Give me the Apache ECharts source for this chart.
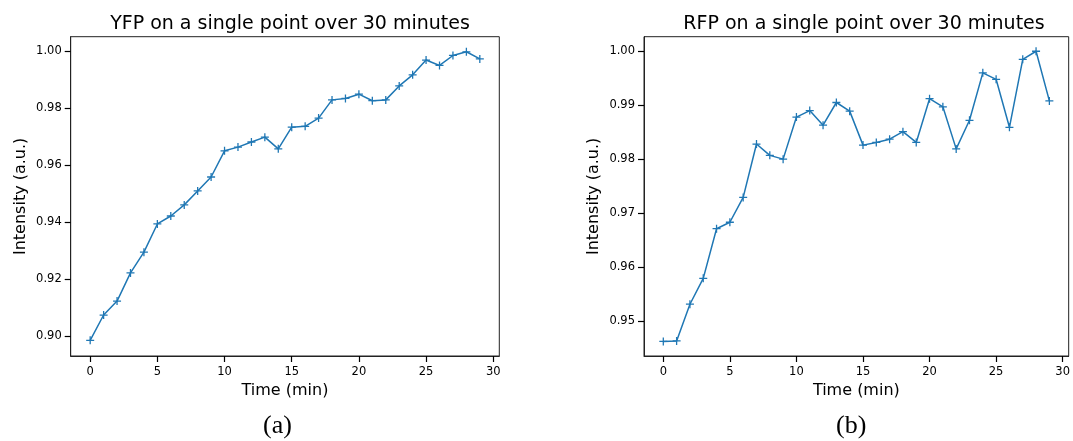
<!DOCTYPE html>
<head>
    <meta charset="UTF-8">
    <title>YFP / RFP</title>
</head>
<body style="margin:0;background:#fff">
<div id="main" style="width:1073px;height:441px"></div>
<script src="https://cdn.jsdelivr.net/npm/echarts@6/dist/echarts.min.js"></script>
<script type="text/javascript">
var times = [0,1,2,3,4,5,6,7,8,9,10,11,12,13,14,15,16,17,18,19,20,21,22,23,24,25,26,27,28,29];
var yfp = [0.8984,0.9073,0.9122,0.9221,0.9294,0.9393,0.9421,0.9460,0.9509,0.9558,
           0.9650,0.9663,0.9681,0.9698,0.9657,0.9733,0.9736,0.9765,0.9829,0.9834,
           0.9849,0.9826,0.9829,0.9878,0.9917,0.9969,0.9950,0.9985,0.9998,0.9973];
var rfp = [0.9462,0.9463,0.9531,0.9579,0.9671,0.9683,0.9729,0.9828,0.9807,0.9800,
           0.9878,0.9890,0.9863,0.9905,0.9889,0.9826,0.9831,0.9837,0.9851,0.9831,
           0.9912,0.9897,0.9819,0.9872,0.9960,0.9948,0.9859,0.9985,1.0000,0.9908];
var xTicks = [0,5,10,15,20,25,30];
var yfpTicks = [0.90,0.92,0.94,0.96,0.98,1.00];
var rfpTicks = [0.95,0.96,0.97,0.98,0.99,1.00];

var font = 'DejaVu Sans';
var blue = '#1f77b4';
// "+" marker, matplotlib style
var plus = 'path://M4.2,0h1.6v4.2h4.2v1.6h-4.2v4.2h-1.6v-4.2h-4.2v-1.6h4.2z';

function pairs(ys) {
    var out = [];
    for (var i = 0; i < ys.length; i++) out.push([times[i], ys[i]]);
    return out;
}

function xAxisFor(idx) {
    return {
        gridIndex: idx, type: 'value', min: -1.45, max: 30.45,
        name: 'Time (min)', nameLocation: 'middle', nameGap: 27,
        nameTextStyle: {fontFamily: font, fontSize: 16, color: '#000'},
        axisLine: {show: true, onZero: false, lineStyle: {color: '#222', width: 1}},
        splitLine: {show: false},
        axisTick: {show: true, length: 6, customValues: xTicks, lineStyle: {color: '#000', width: 1.2}},
        axisLabel: {customValues: xTicks, fontFamily: font, fontSize: 11.5, color: '#000', margin: 10}
    };
}

function yAxisFor(idx, min, max, ticks) {
    return {
        gridIndex: idx, type: 'value', min: min, max: max,
        name: 'Intensity (a.u.)', nameLocation: 'middle', nameGap: 42,
        nameTextStyle: {fontFamily: font, fontSize: 16, color: '#000'},
        axisLine: {show: true, onZero: false, lineStyle: {color: '#222', width: 1}},
        splitLine: {show: false},
        axisTick: {show: true, length: 6, customValues: ticks, lineStyle: {color: '#000', width: 1.2}},
        axisLabel: {customValues: ticks, fontFamily: font, fontSize: 11.5, color: '#000', margin: 9,
            formatter: function (v) { return v.toFixed(2); }}
    };
}

function lineSeries(idx, ys) {
    return {
        type: 'line', xAxisIndex: idx, yAxisIndex: idx,
        data: pairs(ys),
        showAllSymbol: true,
        symbol: plus, symbolSize: 8,
        lineStyle: {color: blue, width: 1.5},
        itemStyle: {color: blue}
    };
}

var option = {
    animation: false,
    backgroundColor: '#fff',
    title: [
        {text: 'YFP on a single point over 30 minutes', left: 285, top: 10, textAlign: 'center',
         textStyle: {fontFamily: font, fontSize: 19, fontWeight: 'normal', color: '#000'}},
        {text: 'RFP on a single point over 30 minutes', left: 859, top: 10, textAlign: 'center',
         textStyle: {fontFamily: font, fontSize: 19, fontWeight: 'normal', color: '#000'}}
    ],
    grid: [
        {left: 70.7, top: 36.7, width: 428.6, height: 319.3, show: true, borderColor: '#222', borderWidth: 1},
        {left: 644, top: 36.7, width: 430.4, height: 319.3, show: true, borderColor: '#222', borderWidth: 1}
    ],
    xAxis: [xAxisFor(0), xAxisFor(1)],
    yAxis: [yAxisFor(0, 0.8929, 1.0051, yfpTicks), yAxisFor(1, 0.9435, 1.0027, rfpTicks)],
    series: [lineSeries(0, yfp), lineSeries(1, rfp)],
    graphic: [
        {type: 'text', left: 263, top: 413, style: {text: '(a)', font: '26px "Liberation Serif"', fill: '#000'}},
        {type: 'text', left: 836, top: 413, style: {text: '(b)', font: '26px "Liberation Serif"', fill: '#000'}}
    ]
};

var myChart = echarts.init(document.getElementById('main'));
myChart.setOption(option);
</script>
</body>
